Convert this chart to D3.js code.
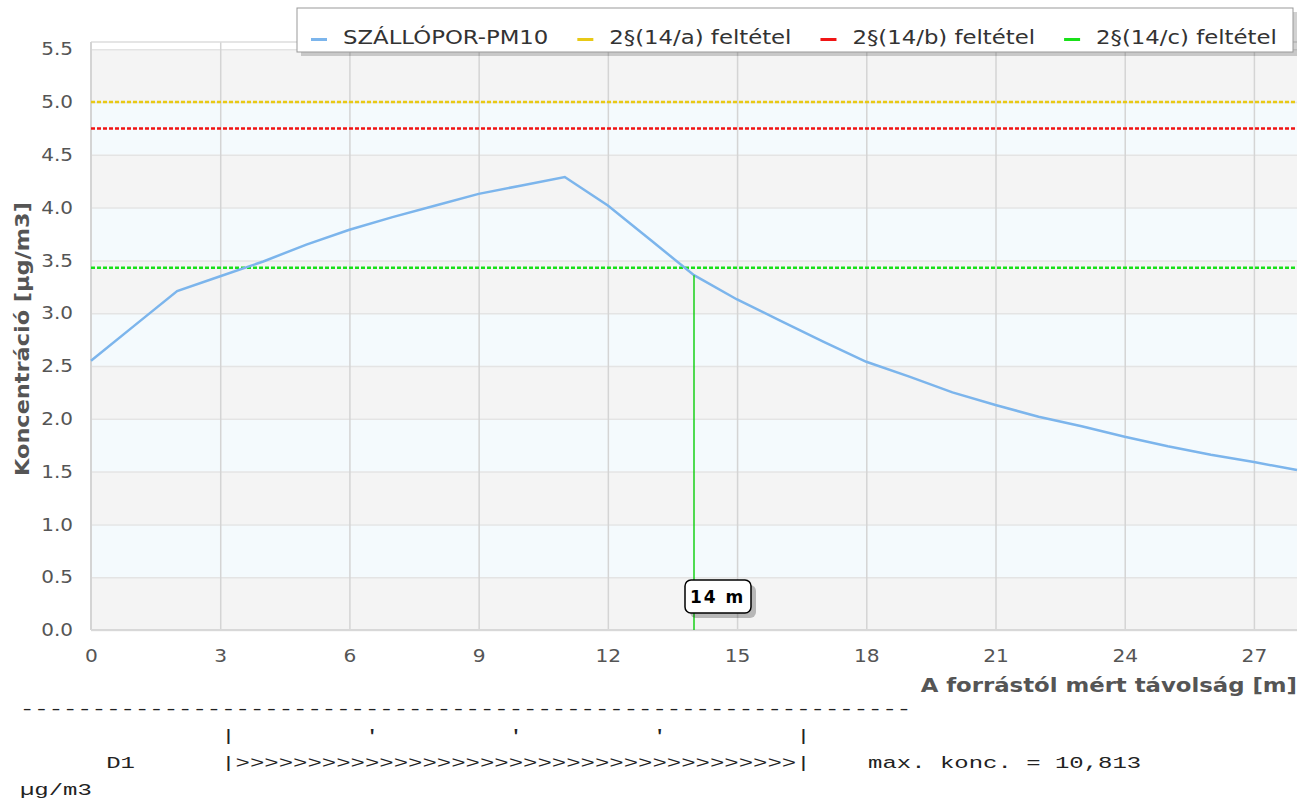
<!DOCTYPE html>
<html>
<head>
<meta charset="utf-8">
<script src="https://cdn.jsdelivr.net/npm/d3@7"></script>
<style>
  body { margin: 0; background: #fff; }
  svg text { font-family: "DejaVu Sans", sans-serif; }
  .mono { font-family: "Liberation Mono", monospace; white-space: pre; fill: #222; }
</style>
</head>
<body>
<svg id="chart"></svg>
<script>

var screen = {width: 1311, height: 802}
var plot = {left: 91, right: 1297, top: 42, bottom: 630}
var stretch = 1.2   // the original rendering is a bit wider than DejaVu

// distance from source [m]
var distances = [0,1,2,3,4,5,6,7,8,9,10,11,12,13,14,15,16,17,18,19,20,21,22,23,24,25,26,27,28]
// PM10 concentration [µg/m3]
var conc = [2.55,2.88,3.21,3.35,3.49,3.65,3.79,3.91,4.02,4.13,4.21,4.29,4.02,3.69,3.36,3.13,2.93,2.73,2.54,2.40,2.25,2.13,2.02,1.93,1.83,1.74,1.66,1.59,1.515]

var limitNames = ["2§(14/a) feltétel", "2§(14/b) feltétel", "2§(14/c) feltétel"]
var limitValues = [5.0, 4.75, 3.43]
var limitColors = ["#e8c916", "#f01515", "#19e019"]

var seriesName = "SZÁLLÓPOR-PM10"
var seriesColor = "#7cb5ec"

var markerX = 14
var markerLabel = "14 m"

var xTicks = [0,3,6,9,12,15,18,21,24,27]
var yTicks = [0,0.5,1,1.5,2,2.5,3,3.5,4,4.5,5,5.5]

var xTitle = "A forrástól mért távolság [m]"
var yTitle = "Koncentráció [µg/m3]"

var textLines = [
  "--------------------------------------------------------------",
  "              |         '         '         '         |",
  "      D1      |>>>>>>>>>>>>>>>>>>>>>>>>>>>>>>>>>>>>>>>|    max. konc. = 10,813",
  "µg/m3"
]

var svg = d3.select("#chart")
    .attr("width", screen.width)
    .attr("height", screen.height)

var xScale = d3.scaleLinear().domain([0, 28]).range([plot.left, plot.right])
var yScale = d3.scaleLinear().domain([0, 5.5]).range([plot.bottom, plot.bottom - 5.5 * 105.6])

// alternating bands
var bands = d3.range(0, 11).map(function(i){ return {y0: i*0.5, y1: (i+1)*0.5, odd: i % 2} })
svg.append("g").selectAll("rect")
    .data(bands).enter().append("rect")
    .attr("x", plot.left)
    .attr("width", plot.right - plot.left)
    .attr("y", function(d){ return yScale(d.y1) })
    .attr("height", function(d){ return yScale(d.y0) - yScale(d.y1) })
    .attr("fill", function(d){ return d.odd ? "#f4fafd" : "#f4f4f4" })

// grid
var yGrid = d3.axisLeft(yScale).tickValues(yTicks).tickSize(-(plot.right - plot.left)).tickFormat("")
svg.append("g").attr("class", "ygrid")
    .attr("transform", "translate(" + plot.left + ",0)")
    .call(yGrid)
    .call(function(g){ g.select(".domain").remove() })
    .selectAll("line").attr("stroke", "#e4e4e4").attr("stroke-width", 1.5)

var xGrid = d3.axisBottom(xScale).tickValues(xTicks.slice(1)).tickSize(-(plot.bottom - plot.top)).tickFormat("")
svg.append("g").attr("class", "xgrid")
    .attr("transform", "translate(0," + plot.bottom + ")")
    .call(xGrid)
    .call(function(g){ g.select(".domain").remove() })
    .selectAll("line").attr("stroke", "#d4d4d4").attr("stroke-width", 1.5)

// frame lines
svg.append("line").attr("x1", plot.left).attr("x2", plot.right).attr("y1", plot.top).attr("y2", plot.top)
    .attr("stroke", "#dcdcdc").attr("stroke-width", 1.5)
svg.append("line").attr("x1", plot.left).attr("x2", plot.left).attr("y1", plot.top).attr("y2", plot.bottom)
    .attr("stroke", "#d4d4d4").attr("stroke-width", 2)
svg.append("line").attr("x1", plot.left).attr("x2", plot.right).attr("y1", plot.bottom).attr("y2", plot.bottom)
    .attr("stroke", "#d8d8d8").attr("stroke-width", 2)

// axis labels (widened a little to match the original)
var yAxis = d3.axisLeft(yScale).tickValues(yTicks).tickSize(0).tickPadding(18).tickFormat(d3.format(".1f"))
svg.append("g")
    .attr("transform", "translate(" + plot.left + ",0)")
    .call(yAxis)
    .call(function(g){ g.select(".domain").remove() })
    .selectAll("text")
    .attr("fill", "#555").attr("font-size", 18).attr("font-family", "DejaVu Sans")
    .attr("transform", function(){ var x = +d3.select(this).attr("x"); return "translate(" + x + ",0) scale(1.11,1) translate(" + (-x) + ",0)" })

var xAxis = d3.axisBottom(xScale).tickValues(xTicks).tickSize(0).tickPadding(19).tickFormat(d3.format("d"))
svg.append("g")
    .attr("transform", "translate(0," + plot.bottom + ")")
    .call(xAxis)
    .call(function(g){ g.select(".domain").remove() })
    .selectAll("text")
    .attr("fill", "#555").attr("font-size", 18).attr("font-family", "DejaVu Sans")
    .attr("transform", "scale(1.12,1)")

svg.append("text")
    .attr("transform", "translate(" + plot.right + ",692) scale(" + stretch + ",1)")
    .attr("text-anchor", "end")
    .attr("font-size", 19).attr("font-weight", "bold").attr("fill", "#555")
    .text(xTitle)

svg.append("text")
    .attr("transform", "translate(29," + ((plot.top + plot.bottom) / 2 + 3) + ") rotate(-90) scale(1.18,1)")
    .attr("text-anchor", "middle")
    .attr("font-size", 19).attr("font-weight", "bold").attr("fill", "#555")
    .text(yTitle)

// limit lines
svg.append("g").selectAll("line")
    .data(limitValues).enter().append("line")
    .attr("x1", plot.left).attr("x2", plot.right)
    .attr("y1", function(d){ return yScale(d) }).attr("y2", function(d){ return yScale(d) })
    .attr("stroke", function(d, i){ return limitColors[i] })
    .attr("stroke-width", 2.5)
    .attr("stroke-dasharray", "4,2")

// series
var points = distances.map(function(d, i){ return [d, conc[i]] })
var lineGenerator = d3.line()
    .x(function(p){ return xScale(p[0]) })
    .y(function(p){ return yScale(p[1]) })
svg.append("path")
    .datum(points)
    .attr("d", lineGenerator)
    .attr("fill", "none")
    .attr("stroke", seriesColor)
    .attr("stroke-width", 2.5)

// marker line at the crossing distance
var markerIdx = distances.indexOf(markerX)
svg.append("line")
    .attr("x1", xScale(markerX)).attr("x2", xScale(markerX))
    .attr("y1", yScale(conc[markerIdx])).attr("y2", plot.bottom)
    .attr("stroke", "#19d019").attr("stroke-width", 1.5)

var lab = svg.append("g").attr("transform", "translate(" + xScale(markerX) + ",596)")
lab.append("rect").attr("x", -7).attr("y", -14).attr("width", 66).attr("height", 33).attr("rx", 6)
    .attr("fill", "#000").attr("opacity", 0.25).attr("transform", "translate(3,3)")
lab.append("rect").attr("x", -9).attr("y", -16).attr("width", 66).attr("height", 33).attr("rx", 6)
    .attr("fill", "#fff").attr("stroke", "#000").attr("stroke-width", 1.5)
lab.append("text").attr("x", -4).attr("y", 7)
    .attr("font-family", "DejaVu Sans Mono").attr("font-weight", "bold").attr("font-size", 17)
    .attr("letter-spacing", 2).attr("fill", "#000")
    .text(markerLabel)

// legend
var legend = svg.append("g").attr("id", "legend")
legend.append("rect").attr("x", 301).attr("y", 12).attr("width", 996).attr("height", 44)
    .attr("fill", "#000").attr("opacity", 0.18)
legend.append("rect").attr("x", 297).attr("y", 8).attr("width", 996).attr("height", 44)
    .attr("fill", "#fff").attr("stroke", "#999").attr("stroke-width", 1)

var legNames = [seriesName].concat(limitNames)
var legColors = [seriesColor].concat(limitColors)
var cursor = 311
var gs = legend.selectAll("g.item").data(legNames).enter().append("g").attr("class", "item")
gs.each(function(name, i){
    var g = d3.select(this)
    g.append("rect").attr("x", 0).attr("y", 38).attr("width", 16).attr("height", 3)
        .attr("fill", legColors[i])
    var t = g.append("text")
        .attr("transform", "translate(32,44) scale(" + stretch + ",1)")
        .attr("font-size", 19).attr("fill", "#333")
        .text(name)
    g.attr("transform", "translate(" + cursor + ",0)")
    cursor += 32 + t.node().getComputedTextLength() * stretch + 29
})

// text block below chart
svg.append("g").selectAll("text")
    .data(textLines).enter().append("text")
    .attr("class", "mono")
    .attr("font-size", 17)
    .attr("transform", function(d, i){ return "translate(20," + (714 + i * 27) + ") scale(1.41,1)" })
    .text(function(d){ return d })

</script>
</body>
</html>
